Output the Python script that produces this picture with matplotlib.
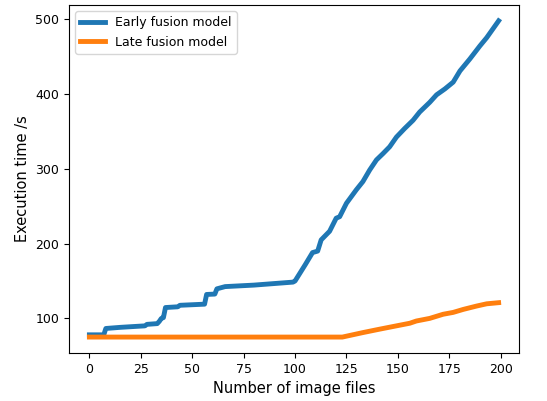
# early vs late fusion execution time
import matplotlib.pyplot as plt

# values
early_x = [0, 7, 8, 15, 27, 28, 33, 34, 35, 36, 37, 43, 44, 56, 57, 61, 62, 66,
           80, 99, 100, 105, 108.5, 111, 112.7, 116.8, 120, 121.7, 125, 129.8,
           133, 136.3, 139.6, 142.8, 146, 149.3, 153.3, 157.4, 160.6, 165.5,
           168.8, 172.9, 176.9, 180.2, 185, 189.9, 193.2, 199]
early_y = [78, 78, 86.5, 88, 90, 92, 93, 96, 100, 101, 114.5, 115.5, 117.5, 119, 132, 132.5, 139.5, 142.5,
           144.5, 148.5, 150, 172, 188, 190, 205, 216.5, 234, 236, 254, 272,
           283, 298.5, 312, 320.5, 329.5, 342.5, 354, 365, 376, 389,
           399, 407, 416, 431, 447, 464.5, 475.5, 498]

late_x = [0, 123, 133, 141, 149.3, 155.8, 159, 165.5, 172, 176.9, 181.8, 188.3, 193.2, 199]
late_y = [75, 75, 81, 85.5, 90, 93.5, 96.5, 100, 105.5, 108, 112, 116.5, 119.5, 121]

fig = plt.figure(figsize=(5.47, 4.01), dpi=100)
ax = fig.add_axes([0.126, 0.12, 0.823, 0.8675])

ax.plot(early_x, early_y, linewidth=3.5, label='Early fusion model')
ax.plot(late_x, late_y, linewidth=3.5, label='Late fusion model')

ax.set_xlabel('Number of image files', fontsize=10.5)
ax.set_ylabel('Execution time /s', fontsize=10.5)
ax.set_xticks([0, 25, 50, 75, 100, 125, 150, 175, 200])
ax.set_yticks([100, 200, 300, 400, 500])
ax.tick_params(labelsize=9)
ax.legend(loc='upper left', fontsize=9)

fig.savefig('out.png', dpi=100)
